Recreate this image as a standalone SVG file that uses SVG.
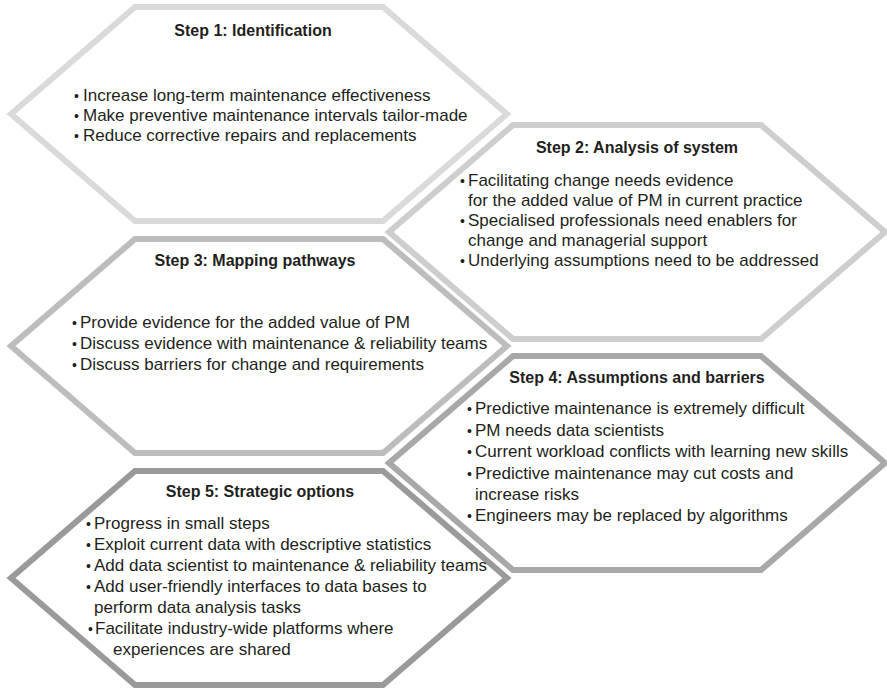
<svg xmlns="http://www.w3.org/2000/svg" width="887" height="689" viewBox="0 0 887 689">
  <style>
    .hex { fill: #ffffff; stroke-width: 6; stroke-linejoin: miter; }
    .h1 { stroke: #dadada; }
    .h2 { stroke: #cecece; }
    .h3 { stroke: #bdbdbd; }
    .h4 { stroke: #a8a8a8; }
    .h5 { stroke: #9a9a9a; }
    .title { font-family: "Liberation Sans", Arial, sans-serif; font-weight: bold; font-size: 16px; fill: #231f20; text-anchor: middle; }
    .body { font-family: "Liberation Sans", Arial, sans-serif; font-size: 17px; fill: #231f20; }
    .b { font-size: 14px; }
  </style>
  <defs>
    <!-- one hexagon outline, 496 wide and 214 tall, placed by its left point -->
    <polygon id="hexShape" points="0,0 124,-107 372,-107 496,0 372,107 124,107"/>
  </defs>

  <!-- Step 1 -->
  <g id="step1">
    <use href="#hexShape" class="hex h1" x="11" y="114"/>
    <text class="title" x="253" y="36">Step 1: Identification</text>
    <text class="body" y="101"><tspan class="b" x="74">•</tspan><tspan x="83">Increase long-term maintenance effectiveness</tspan></text>
    <text class="body" y="121"><tspan class="b" x="74">•</tspan><tspan x="83">Make preventive maintenance intervals tailor-made</tspan></text>
    <text class="body" y="141"><tspan class="b" x="74">•</tspan><tspan x="83">Reduce corrective repairs and replacements</tspan></text>
  </g>

  <!-- Step 2 -->
  <g id="step2">
    <use href="#hexShape" class="hex h2" x="389" y="232"/>
    <text class="title" x="637" y="153">Step 2: Analysis of system</text>
    <text class="body" y="186"><tspan class="b" x="460">•</tspan><tspan x="468">Facilitating change needs evidence</tspan></text>
    <text class="body" x="468" y="206">for the added value of PM in current practice</text>
    <text class="body" y="226"><tspan class="b" x="460">•</tspan><tspan x="468">Specialised professionals need enablers for</tspan></text>
    <text class="body" x="468" y="246">change and managerial support</text>
    <text class="body" y="266"><tspan class="b" x="460">•</tspan><tspan x="468">Underlying assumptions need to be addressed</tspan></text>
  </g>

  <!-- Step 3 -->
  <g id="step3">
    <use href="#hexShape" class="hex h3" x="11" y="346"/>
    <text class="title" x="255" y="266">Step 3: Mapping pathways</text>
    <text class="body" y="328"><tspan class="b" x="72">•</tspan><tspan x="80">Provide evidence for the added value of PM</tspan></text>
    <text class="body" y="349"><tspan class="b" x="72">•</tspan><tspan x="80">Discuss evidence with maintenance &amp; reliability teams</tspan></text>
    <text class="body" y="370"><tspan class="b" x="72">•</tspan><tspan x="80">Discuss barriers for change and requirements</tspan></text>
  </g>

  <!-- Step 4 -->
  <g id="step4">
    <use href="#hexShape" class="hex h4" x="389" y="463"/>
    <text class="title" x="637" y="383">Step 4: Assumptions and barriers</text>
    <text class="body" y="414"><tspan class="b" x="467">•</tspan><tspan x="475">Predictive maintenance is extremely difficult</tspan></text>
    <text class="body" y="436"><tspan class="b" x="467">•</tspan><tspan x="475">PM needs data scientists</tspan></text>
    <text class="body" y="457"><tspan class="b" x="467">•</tspan><tspan x="475">Current workload conflicts with learning new skills</tspan></text>
    <text class="body" y="479"><tspan class="b" x="467">•</tspan><tspan x="475">Predictive maintenance may cut costs and</tspan></text>
    <text class="body" x="475" y="500">increase risks</text>
    <text class="body" y="521"><tspan class="b" x="467">•</tspan><tspan x="475">Engineers may be replaced by algorithms</tspan></text>
  </g>

  <!-- Step 5 -->
  <g id="step5">
    <use href="#hexShape" class="hex h5" x="11" y="578"/>
    <text class="title" x="260" y="497">Step 5: Strategic options</text>
    <text class="body" y="529"><tspan class="b" x="86">•</tspan><tspan x="94">Progress in small steps</tspan></text>
    <text class="body" y="550"><tspan class="b" x="86">•</tspan><tspan x="94">Exploit current data with descriptive statistics</tspan></text>
    <text class="body" y="571"><tspan class="b" x="86">•</tspan><tspan x="94">Add data scientist to maintenance &amp; reliability teams</tspan></text>
    <text class="body" y="592"><tspan class="b" x="86">•</tspan><tspan x="94">Add user-friendly interfaces to data bases to</tspan></text>
    <text class="body" x="94" y="613">perform data analysis tasks</text>
    <text class="body" y="634"><tspan class="b" x="88">•</tspan><tspan x="95">Facilitate industry-wide platforms where</tspan></text>
    <text class="body" x="113" y="655">experiences are shared</text>
  </g>

  <!-- no connectors: the steps sit edge to edge -->
  <g id="connectors"/>
</svg>
